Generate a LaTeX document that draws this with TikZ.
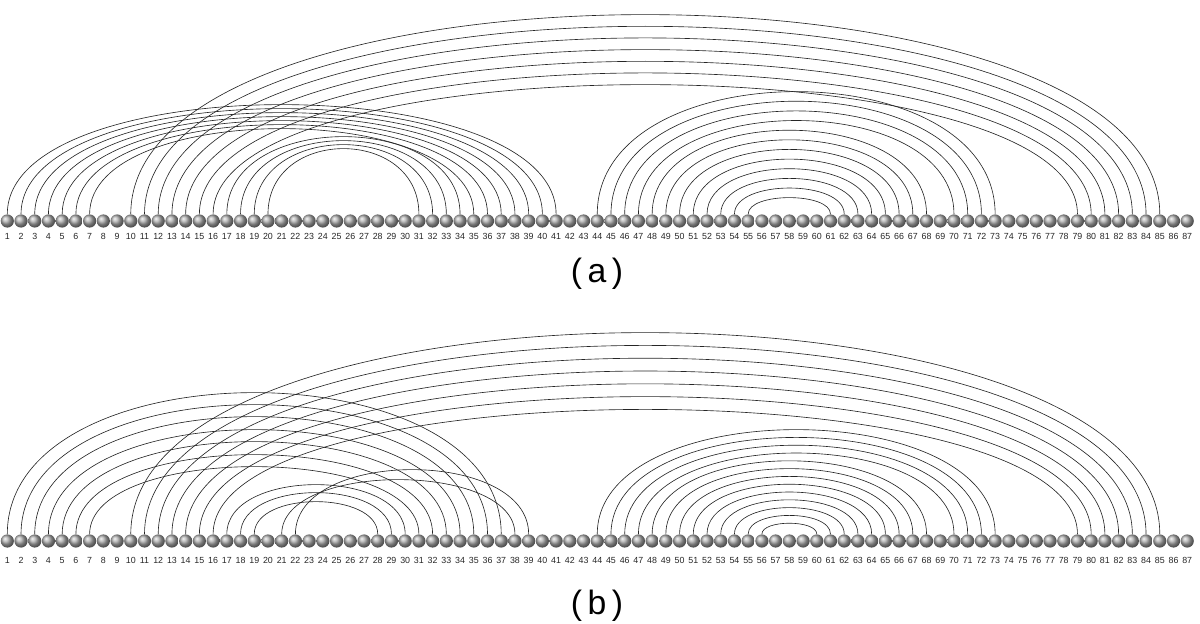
\documentclass[tikz,border=0pt]{standalone}
\usepackage{fontspec}
\setmainfont{Liberation Sans}
\tikzset{
  bead/.style={circle, shading=ball, ball color=gray!65, minimum size=3.3mm, inner sep=0pt},
  num/.style={font=\fontsize{6.3}{7}\selectfont, text=black!85, inner sep=0pt},
  link/.style={draw=black!85, line width=0.45pt},
  caption/.style={font=\fontsize{24}{26}\selectfont, inner sep=0pt}
}
\begin{document}
\begin{tikzpicture}[x=0.25mm, y=0.25mm]
    \useasboundingbox (0,0) rectangle (1200,623);

    % beads and numbers, chain (a)
    \foreach \i in {1,...,87} {
        \node[bead] (a\i) at ({7.3+(\i-1)*13.72}, 402) {};
        \node[num] (na\i) at ({7.3+(\i-1)*13.72}, 387) {\i};
    }
    % beads and numbers, chain (b)
    \foreach \i in {1,...,87} {
        \node[bead] (b\i) at ({7.3+(\i-1)*13.72}, 82) {};
        \node[num] (nb\i) at ({7.3+(\i-1)*13.72}, 63) {\i};
    }

    % contacts of chain (a): start/end/height
    \foreach \s/\e/\h in {10/85/199.5, 11/84/187.8, 12/83/176.2, 13/82/164.5, 14/81/152.8, 15/80/141.2, 16/79/129.5,
                          1/41/109.5, 2/40/105.5, 3/39/101.5, 4/38/97.5, 5/37/93.5, 6/36/89.5, 7/35/85.5,
                          17/34/77.5, 18/33/73.5, 19/32/69.5, 20/31/65.5,
                          44/73/122.5, 45/72/112.9, 46/71/103.2, 47/70/93.6, 48/68/83.9, 49/67/74.3,
                          50/66/64.7, 51/65/55.0, 52/64/45.4, 53/63/35.7, 54/62/26.1, 55/61/16.5} {
        \draw[link] (a\s.north) .. controls +(0,{4*\h/3}) and +(0,{4*\h/3}) .. (a\e.north);
    }

    % contacts of chain (b)
    \foreach \s/\e/\h in {10/85/201.5, 11/84/188.7, 12/83/175.9, 13/82/163.1, 14/81/150.3, 15/80/137.5, 16/79/124.7,
                          1/37/141.5, 2/36/129.5, 3/35/117.5, 4/34/104.5, 5/33/92.5, 6/32/79.5, 7/31/67.5,
                          17/30/49.5, 18/29/41.5, 19/28/32.5, 21/38/54.5, 22/39/64.5,
                          44/73/104.5, 45/72/96.7, 46/71/88.9, 47/70/81.1, 48/68/73.3, 49/67/65.5, 50/66/57.7,
                          51/65/49.9, 52/64/42.1, 53/63/34.3, 54/62/26.5, 55/61/18.7, 56/60/10.9} {
        \draw[link] (b\s.north) .. controls +(0,{4*\h/3}) and +(0,{4*\h/3}) .. (b\e.north);
    }

    % captions
    \node[caption] (capa) at (597, 349) {(\,a\,)};
    \node[caption] (capb) at (597, 17) {(\,b\,)};
\end{tikzpicture}
\end{document}
